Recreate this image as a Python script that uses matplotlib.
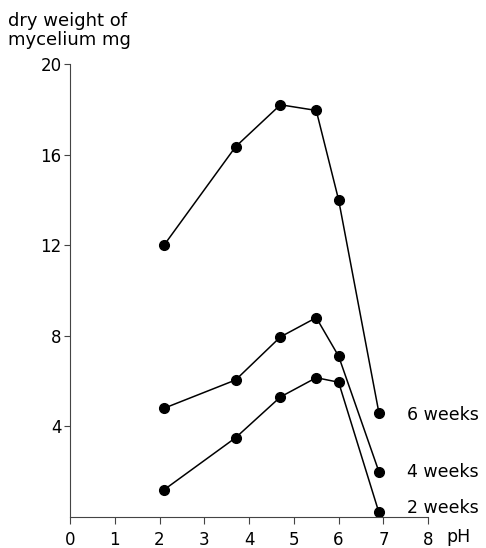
import matplotlib.pyplot as plt

# pH values and dry weight of mycelium (mg) after 2, 4 and 6 weeks
ph = [2.1, 3.7, 4.7, 5.5, 6.0, 6.9]
weeks_6 = [12.0, 16.35, 18.2, 17.95, 14.0, 4.6]
weeks_4 = [4.8, 6.05, 7.95, 8.8, 7.1, 2.0]
weeks_2 = [1.2, 3.5, 5.3, 6.15, 5.95, 0.2]

series = [("6 weeks", weeks_6), ("4 weeks", weeks_4), ("2 weeks", weeks_2)]

x_ticks = [0, 1, 2, 3, 4, 5, 6, 7, 8]
y_ticks = [4, 8, 12, 16, 20]

plt.rcParams['font.family'] = ['DejaVu Sans']

fig = plt.figure(figsize=(4.86, 5.48), dpi=100)
ax = fig.add_axes([0.144, 0.0566, 0.737, 0.8266])

for name, vals in series:
    ax.plot(ph, vals, color="black", linewidth=1.1, marker="o",
            markersize=7, markerfacecolor="black", markeredgecolor="black")

# labels next to the last points
label_y = {"6 weeks": 4.5, "4 weeks": 2.0, "2 weeks": 0.4}
for name, vals in series:
    ax.text(7.53, label_y[name], name, fontsize=12.5, ha="left", va="center",
            clip_on=False)

ax.set_xlim(0, 8)
ax.set_ylim(0, 20)
ax.set_xticks(x_ticks)
ax.set_yticks(y_ticks)
ax.set_xticklabels([str(t) for t in x_ticks])
ax.set_yticklabels([str(t) for t in y_ticks])

for side in ("top", "right"):
    ax.spines[side].set_visible(False)
for side in ("left", "bottom"):
    ax.spines[side].set_linewidth(0.8)
    ax.spines[side].set_color("#444444")

ax.tick_params(axis="x", direction="out", length=5, width=0.8,
               color="#444444", labelsize=12, pad=5)
ax.tick_params(axis="y", direction="out", length=4, width=0.8,
               color="#444444", labelsize=12, pad=2)

ax.text(8.4, -0.88, "pH", fontsize=12.5, ha="left", va="center", clip_on=False)
fig.text(0.0165, 0.978, "dry weight of\nmycelium mg", fontsize=13,
         ha="left", va="top", linespacing=1.05)

fig.savefig("out.png", dpi=100)
